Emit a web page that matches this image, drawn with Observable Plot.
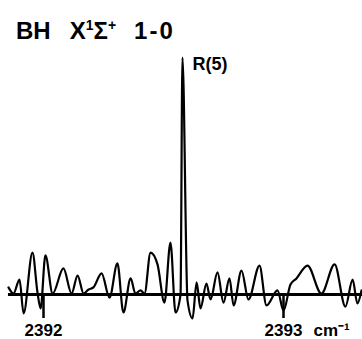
<!DOCTYPE html>
<html><head><meta charset="utf-8">
<script src="https://cdn.jsdelivr.net/npm/d3@7"></script>
<script src="https://cdn.jsdelivr.net/npm/@observablehq/plot@0.6"></script>
<style>
body{margin:0;background:#fff;font-family:"Liberation Sans",Arial,sans-serif;color:#000;}
#title{height:46px;box-sizing:border-box;padding:20px 0 0 16px;font-size:24px;line-height:22px;font-weight:bold;white-space:nowrap;}
#title sup{font-size:14px;vertical-align:0;position:relative;top:-9px;}
#title .gap1{margin-left:19px;}
#title .gap2{margin-left:18px;letter-spacing:2px;}
</style></head><body>
<div id="title">BH<span class="gap1">X<sup>1</sup>Σ<sup>+</sup></span><span class="gap2">1-0</span></div>
<div id="chart"></div>
<script>
// Wavenumber (cm-1) and relative intensity (% of R(5) peak)
const wavenumber = [2391.854, 2391.875, 2391.900, 2391.917, 2391.954, 2391.975, 2391.988, 2392.008, 2392.038, 2392.083,
  2392.117, 2392.142, 2392.167, 2392.188, 2392.208, 2392.242, 2392.275, 2392.308, 2392.333, 2392.363,
  2392.383, 2392.404, 2392.421, 2392.446, 2392.475, 2392.504, 2392.529, 2392.550, 2392.571, 2392.579,
  2392.600, 2392.621, 2392.638, 2392.654, 2392.679, 2392.696, 2392.725, 2392.750, 2392.775, 2392.792,
  2392.825, 2392.854, 2392.900, 2392.929, 2392.975, 2393.000, 2393.029, 2393.054, 2393.100, 2393.158,
  2393.213, 2393.258, 2393.288, 2393.308, 2393.325];
const intensity = [3.0, 0.4, 6.3, -8.0, 17.7, 0.8, -5.9, 16.5, 0.4, 11.0,
  0.4, 8.0, 0.4, 2.1, 3.0, 8.9, -1.3, 13.1, -7.6, 6.8,
  0.4, 1.7, 0.4, 17.7, 12.7, -3.4, 21.9, -7.6, 0, 100,
  -2.5, -10.1, 5.1, -5.9, 4.6, -2.1, 9.3, -3.4, 6.8, -4.6,
  10.1, -2.1, 12.2, -4.6, 1.7, -6.8, 4.2, 6.8, 12.2, 0.4,
  12.7, -5.1, 6.3, -3.8, 1.7];
const xDomain = [2391.8208, 2393.3292];
const baselineStart = 2391.854;
const tickValues = [2392, 2393];
const tickLabels = ["2392", "2393"];
const unitLabel = "cm⁻¹";
const lineLabel = "R(5)";

const data = wavenumber.map((w, i) => ({w, I: intensity[i]}));
const peak = data[intensity.indexOf(d3.max(intensity))];

const plot = Plot.plot({
  width: 362, height: 293,
  marginLeft: 0, marginRight: 0, marginTop: 0, marginBottom: 45,
  x: {domain: xDomain},
  y: {domain: [0, 100], range: [248, 11], axis: null},
  style: {fontFamily: "'Liberation Sans', Arial, sans-serif", fontSize: "17px", fontWeight: "bold", color: "black", background: "white", overflow: "visible"},
  marks: [
    Plot.ruleY([0], {x1: baselineStart, x2: xDomain[1], strokeWidth: 3}),
    Plot.axisX({ticks: tickValues, tickFormat: d => tickLabels[tickValues.indexOf(d)], tickSize: 24, tickPadding: 5, strokeWidth: 2.5, label: null}),
    Plot.line(data, {x: "w", y: "I", curve: "monotone-x", stroke: "black", strokeWidth: 2.2}),
    Plot.text([peak], {x: "w", y: "I", text: () => lineLabel, dx: 10, textAnchor: "start", lineAnchor: "top", fontSize: 18}),
    Plot.text([tickValues[1]], {x: d => d, frameAnchor: "bottom", text: () => unitLabel, textAnchor: "start", lineAnchor: "top", dx: 30, dy: 29})
  ]
});
document.getElementById("chart").appendChild(plot);
</script>
</body></html>
